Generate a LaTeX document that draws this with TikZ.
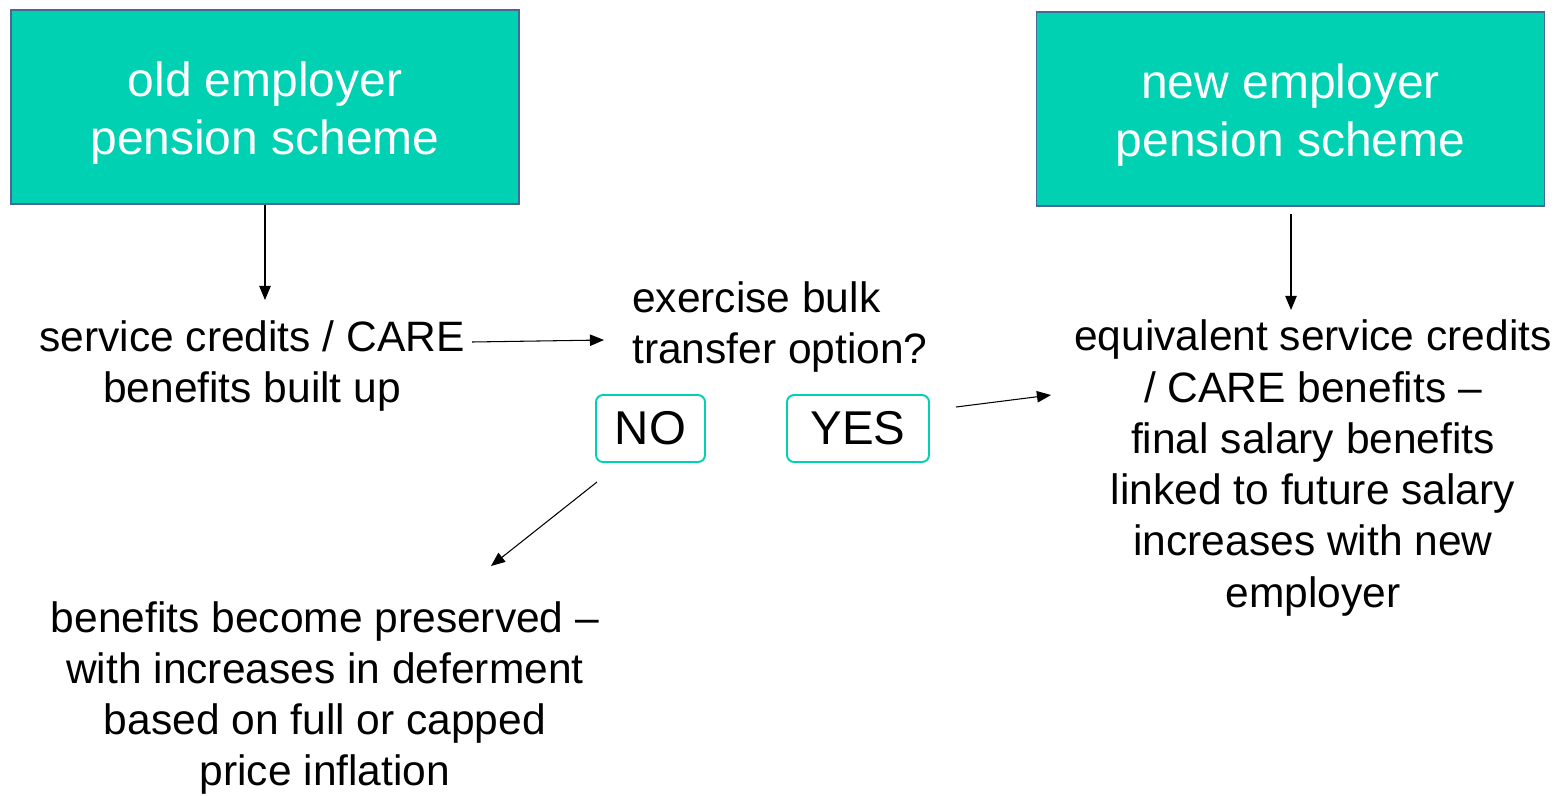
\documentclass[tikz,border=0pt]{standalone}
\usepackage{fontspec}
\setmainfont{Liberation Sans}
\usetikzlibrary{arrows.meta}
\definecolor{teal}{RGB}{0,209,178}
\definecolor{edgeblue}{RGB}{72,104,150}

\begin{document}
\begin{tikzpicture}[x=0.02cm,y=-0.02cm,
	scheme/.style={draw=edgeblue,line width=1.1pt,fill=teal,text=white,
		minimum width=508*0.02cm,minimum height=194*0.02cm,align=center,
		font=\fontsize{27.3}{33}\selectfont},
	txt/.style={align=center,font=\fontsize{24.2}{29.2}\selectfont},
	choice/.style={draw=teal,line width=1.1pt,rounded corners=4pt,
		minimum height=67*0.02cm,inner xsep=0pt,font=\fontsize{27}{30}\selectfont},
	arr/.style={-{Triangle[length=8pt,width=6.5pt]},line width=0.6pt}]
	\useasboundingbox (0,0) rectangle (1556,795);
	
	% 两个养老金计划
	\node[scheme] (old) at (265,107) {};
	\node[scheme,draw=none,fill=none] (oldtxt) at (265,113) {old employer\\pension scheme};
	\node[scheme] (new) at (1290.5,109) {};
	\node[scheme,draw=none,fill=none] (newtxt) at (1290.5,115) {new employer\\pension scheme};
	
	% 文字说明
	\node[txt] (credits) at (252,366) {service credits / CARE\\benefits built up};
	\node[txt,align=left,anchor=west] (bulk) at (626,327) {exercise bulk\\transfer option?};
	\node[choice,minimum width=109*0.02cm] (no) at (650.5,428.5) {NO};
	\node[choice,minimum width=142*0.02cm] (yes) at (858,428.5) {YES};
	\node[txt] (equiv) at (1313,468) {equivalent service credits\\/ CARE benefits --\\final salary benefits\\linked to future salary\\increases with new\\employer};
	\node[txt] (preserved) at (325,698) {benefits become preserved --\\with increases in deferment\\based on full or capped\\price inflation};
	
	% 箭头
	\coordinate (oldend) at (265,300);
	\coordinate (newstart) at (1291,214);
	\coordinate (newend) at (1291,310);
	\coordinate (creditsout) at (472,342);
	\coordinate (bulkin) at (604,340);
	\coordinate (yesout) at (956,407);
	\coordinate (equivin) at (1051,395);
	\coordinate (noout) at (597,482);
	\coordinate (presin) at (491,566);
	\draw[arr] (old.south) -- (oldend);
	\draw[arr] (newstart) -- (newend);
	\draw[arr] (creditsout) -- (bulkin);
	\draw[arr] (yesout) -- (equivin);
	\draw[arr] (noout) -- (presin);
\end{tikzpicture}
\end{document}
